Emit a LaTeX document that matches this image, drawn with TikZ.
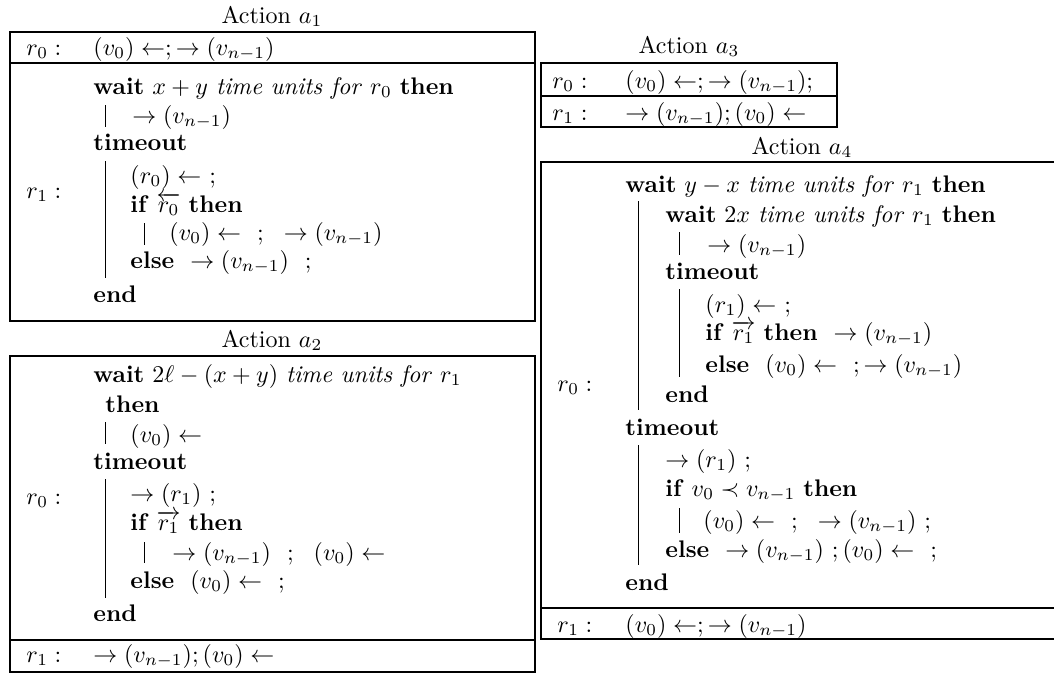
\documentclass[tikz,border=0pt]{standalone}
\usepackage{amsmath,amssymb}
\newcommand\kw[1]{\textbf{#1}}
\newcommand\tuf{\textit{time units for}}
\begin{document}
\begin{tikzpicture}[x=0.4167pt,y=-0.4167pt,
  ln/.style={anchor=base west,inner sep=0pt},
  ttl/.style={anchor=base,inner sep=0pt},
  frame/.style={draw,line width=0.45pt},
  bar/.style={line width=0.4pt}]
\useasboundingbox (0,0) rectangle (1054,672);
\clip (0,0) rectangle (1054,672);
% ---------------- Action a1
\node[ttl] (t1) at (272,23) {Action $a_1$};
\draw[frame] (10,32) rectangle (535,321);
\draw[frame] (10,63) -- (535,63);
\node[ln] (a1r0) at (26,55) {$r_0:$};
\node[ln] (a1r0c) at (93,55) {$(v_0)\leftarrow; \rightarrow(v_{n-1})$};
\node[ln] (a1r1) at (26,198) {$r_1:$};
\node[ln] (a1l1) at (93,94) {\kw{wait} $x+y$ \tuf{} $r_0$ \kw{then}};
\node[ln] (a1l2) at (132,123) {$\rightarrow(v_{n-1})$};
\node[ln] (a1l3) at (93,150) {\kw{timeout}};
\node[ln] (a1l4) at (130,183) {$(r_0)\leftarrow\ ;$};
\node[ln] (a1l5) at (130,212) {\kw{if} $\overleftarrow{r_0}$ \kw{then}};
\node[ln] (a1l6) at (169,240) {$(v_0)\leftarrow\ \ ;\ \ \rightarrow(v_{n-1})$};
\node[ln] (a1l7) at (130,268) {\kw{else}\ \ $\rightarrow(v_{n-1})\ \ ;$};
\node[ln] (a1l8) at (93,302) {\kw{end}};
\draw[bar] (105,105) -- (105,127);
\draw[bar] (105,161) -- (105,278);
\draw[bar] (144,223) -- (144,245);
% ---------------- Action a2
\node[ttl] (t2) at (272,347) {Action $a_2$};
\draw[frame] (10,356) rectangle (535,672);
\draw[frame] (10,640) -- (535,640);
\node[ln] (a2r0) at (26,504) {$r_0:$};
\node[ln] (a2l1) at (93,382) {\kw{wait} $2\ell-(x+y)$ \tuf{} $r_1$};
\node[ln] (a2l2) at (105,412) {\kw{then}};
\node[ln] (a2l3) at (130,442) {$(v_0)\leftarrow$};
\node[ln] (a2l4) at (93,469) {\kw{timeout}};
\node[ln] (a2l5) at (130,501) {$\rightarrow(r_1)\ ;$};
\node[ln] (a2l6) at (130,530) {\kw{if} $\overrightarrow{r_1}$ \kw{then}};
\node[ln] (a2l7) at (172,560) {$\rightarrow(v_{n-1})\ \ ;\ \ (v_0)\leftarrow$};
\node[ln] (a2l8) at (130,588) {\kw{else}\ \ $(v_0)\leftarrow\ \ ;$};
\node[ln] (a2l9) at (93,621) {\kw{end}};
\draw[bar] (105,422) -- (105,444);
\draw[bar] (105,479) -- (105,598);
\draw[bar] (144,542) -- (144,563);
\node[ln] (a2r1) at (26,662) {$r_1:$};
\node[ln] (a2r1c) at (93,662) {$\rightarrow(v_{n-1}); (v_0)\leftarrow$};
% ---------------- Action a3
\node[ttl] (t3) at (689,53) {Action $a_3$};
\draw[frame] (541,63) rectangle (837,127);
\draw[frame] (541,96) -- (837,96);
\node[ln] (a3r0) at (552,88) {$r_0:$};
\node[ln] (a3r0c) at (625,88) {$(v_0)\leftarrow; \rightarrow(v_{n-1});$};
\node[ln] (a3r1) at (552,120) {$r_1:$};
\node[ln] (a3r1c) at (625,120) {$\rightarrow(v_{n-1}); (v_0)\leftarrow$};
% ---------------- Action a4
\node[ttl] (t4) at (802,154) {Action $a_4$};
\draw[frame] (541,162) rectangle (1063,639);
\draw[frame] (541,608) -- (1063,608);
\node[ln] (a4r0) at (557,391) {$r_0:$};
\node[ln] (a4l1) at (625,192) {\kw{wait} $y-x$ \tuf{} $r_1$ \kw{then}};
\node[ln] (a4l2) at (665,222) {\kw{wait} $2x$ \tuf{} $r_1$ \kw{then}};
\node[ln] (a4l3) at (707,252) {$\rightarrow(v_{n-1})$};
\node[ln] (a4l4) at (665,279) {\kw{timeout}};
\node[ln] (a4l5) at (705,312) {$(r_1)\leftarrow\ ;$};
\node[ln] (a4l6) at (705,340) {\kw{if} $\overrightarrow{r_1}$ \kw{then}\ \ $\rightarrow(v_{n-1})$};
\node[ln] (a4l7) at (705,372) {\kw{else}\ \ $(v_0)\leftarrow\ \ ;\rightarrow(v_{n-1})$};
\node[ln] (a4l8) at (665,402) {\kw{end}};
\node[ln] (a4l9) at (625,435) {\kw{timeout}};
\node[ln] (a4l10) at (665,467) {$\rightarrow(r_1)\ ;$};
\node[ln] (a4l11) at (665,496) {\kw{if} $v_0\prec v_{n-1}$ \kw{then}};
\node[ln] (a4l12) at (703,528) {$(v_0)\leftarrow\ \ ;\ \ \rightarrow(v_{n-1})\ ;$};
\node[ln] (a4l13) at (665,557) {\kw{else}\ \ $\rightarrow(v_{n-1})\ ;(v_0)\leftarrow\ \ ;$};
\node[ln] (a4l14) at (625,590) {\kw{end}};
\draw[bar] (638,201) -- (638,410);
\draw[bar] (679,232) -- (679,255);
\draw[bar] (679,289) -- (679,377);
\draw[bar] (638,445) -- (638,565);
\draw[bar] (679,508) -- (679,533);
\node[ln] (a4r1) at (557,632) {$r_1:$};
\node[ln] (a4r1c) at (625,632) {$(v_0)\leftarrow; \rightarrow(v_{n-1})$};
\end{tikzpicture}
\end{document}
